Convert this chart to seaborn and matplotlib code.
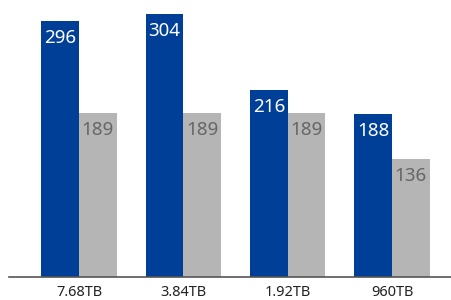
import matplotlib
matplotlib.use("Agg")
import matplotlib.pyplot as plt
import seaborn as sns
import pandas as pd

categories = ["7.68TB", "3.84TB", "1.92TB", "960TB"]
series_a = [296, 304, 216, 188]
series_b = [189, 189, 189, 136]
series_names = ["A", "B"]

df = pd.DataFrame({
    "cat": categories * 2,
    "val": series_a + series_b,
    "series": [series_names[0]] * 4 + [series_names[1]] * 4,
})

sns.set_style("white")
plt.rcParams["font.family"] = ["Noto Sans", "DejaVu Sans"]

fig = plt.figure(figsize=(4.52, 3.0), dpi=100)
ax = fig.add_axes([9 / 452, 23 / 300, 443 / 452, 277 / 300])

blue = "#003f98"
gray = "#b4b5b4"
sns.barplot(data=df, x="cat", y="val", hue="series", order=categories,
            hue_order=series_names, palette=[blue, gray], width=0.72,
            saturation=1, legend=False, ax=ax, linewidth=0)

ax.set_xlim(-0.671, 3.575)
ax.set_ylim(0, 320)
ax.set_xlabel("")
ax.set_ylabel("")
ax.set_yticks([])
for s in ["top", "left", "right"]:
    ax.spines[s].set_visible(False)
ax.spines["bottom"].set_color("#555555")
ax.spines["bottom"].set_linewidth(1.2)
ax.tick_params(axis="x", length=0, pad=6, labelsize=10.5, colors="#222222")

for cont, vals, col, wt in zip(ax.containers, [series_a, series_b],
                               ["white", "#666666"], ["medium", "light"]):
    for p, v in zip(cont.patches, vals):
        ax.annotate(str(v), (p.get_x() + p.get_width() / 2, p.get_height()),
                    xytext=(0, -17), textcoords="offset pixels",
                    ha="center", va="center", color=col, fontsize=13.5,
                    fontweight=wt)

fig.savefig("out.png", dpi=100)
